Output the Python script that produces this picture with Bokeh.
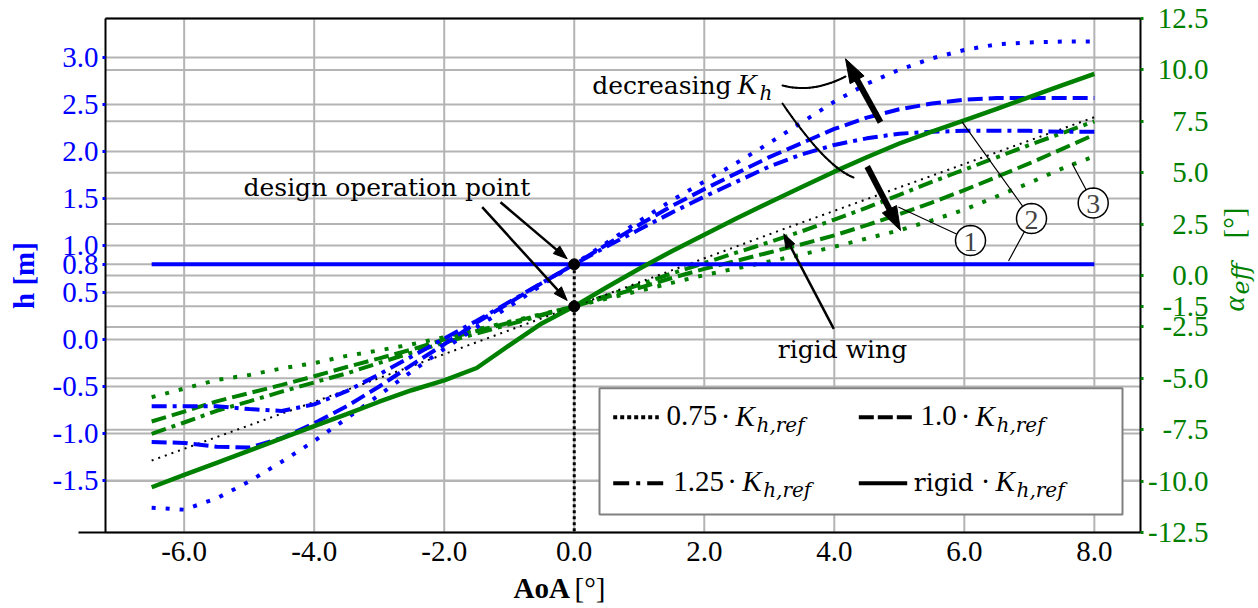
import math
from bokeh.plotting import figure
from bokeh.models import (Range1d, LinearAxis, FixedTicker, PrintfTickFormatter,
                          Label, Arrow, BoxAnnotation, PolyAnnotation)
from bokeh.embed import file_html
from bokeh.resources import INLINE

# ---------------- data ----------------
aoa = [-6.5, -6.0, -5.5, -5.0, -4.5, -4.0, -3.5, -3.0, -2.5, -2.0, -1.5, -1.0, -0.5, 0.0,
       0.5, 1.0, 1.5, 2.0, 2.5, 3.0, 3.5, 4.0, 4.5, 5.0, 5.5, 6.0, 6.5, 7.0, 7.5, 8.0]

h_075 = [-1.79, -1.81, -1.69, -1.51, -1.30, -1.08, -0.84, -0.59, -0.34, -0.10, 0.13, 0.35, 0.58, 0.80,
         1.03, 1.26, 1.48, 1.68, 1.88, 2.09, 2.31, 2.53, 2.72, 2.87, 2.99, 3.08, 3.14, 3.16, 3.17, 3.17]
h_100 = [-1.09, -1.10, -1.14, -1.15, -1.05, -0.89, -0.71, -0.50, -0.27, -0.05, 0.18, 0.39, 0.60, 0.80,
         1.01, 1.22, 1.42, 1.60, 1.77, 1.94, 2.09, 2.24, 2.36, 2.45, 2.51, 2.55, 2.57, 2.57, 2.57, 2.57]
h_125 = [-0.71, -0.71, -0.71, -0.74, -0.76, -0.69, -0.55, -0.37, -0.18, 0.01, 0.20, 0.40, 0.60, 0.80,
         0.99, 1.17, 1.35, 1.52, 1.68, 1.84, 1.97, 2.07, 2.14, 2.19, 2.21, 2.22, 2.22, 2.22, 2.21, 2.21]

alpha_075 = [-5.92, -5.50, -5.08, -4.84, -4.52, -4.26, -3.91, -3.64, -3.35, -3.00, -2.62, -2.25, -1.88, -1.50,
             -1.12, -0.75, -0.36, 0.02, 0.35, 0.68, 1.02, 1.40, 1.80, 2.20, 2.68, 3.20, 3.85, 4.50, 5.20, 5.80]
alpha_100 = [-7.10, -6.62, -6.12, -5.72, -5.32, -4.90, -4.45, -4.03, -3.60, -3.11, -2.70, -2.30, -1.90, -1.50,
             -1.05, -0.60, -0.12, 0.32, 0.72, 1.12, 1.52, 1.95, 2.45, 2.98, 3.55, 4.15, 4.80, 5.45, 6.15, 6.85]
alpha_125 = [-7.70, -7.15, -6.58, -6.12, -5.65, -5.20, -4.76, -4.25, -3.75, -3.27, -2.82, -2.38, -1.94, -1.50,
             -0.98, -0.45, 0.10, 0.60, 1.12, 1.62, 2.15, 2.72, 3.30, 3.92, 4.55, 5.15, 5.75, 6.35, 6.92, 7.50]
alpha_rigid = [-10.30, -9.70, -9.11, -8.52, -7.92, -7.33, -6.74, -6.14, -5.58, -5.10, -4.50, -3.40, -2.33, -1.50,
               -0.57, 0.33, 1.18, 1.98, 2.78, 3.55, 4.30, 5.05, 5.75, 6.42, 7.00, 7.55, 8.10, 8.68, 9.25, 9.81]

aoa_rigid_h = [-6.5, 8.0]
h_rigid = [0.80, 0.80]

aoa_ref = [-6.5, -4.0, 0.0, 3.17, 8.0]
alpha_ref = [-9.00, -6.15, -1.50, 2.20, 7.70]

design_aoa = [0.0]
design_h = [0.8]
design_alpha = [-1.5]

aoa_ticks = [-6.0, -4.0, -2.0, 0.0, 2.0, 4.0, 6.0, 8.0]
h_ticks = [-1.5, -1.0, -0.5, 0.0, 0.5, 0.8, 1.0, 1.5, 2.0, 2.5, 3.0]
alpha_ticks = [-12.5, -10.0, -7.5, -5.0, -2.5, -1.5, 0.0, 2.5, 5.0, 7.5, 10.0, 12.5]
legend_factors = ["0.75", "1.0", "1.25", "rigid"]

# ---------------- layout ----------------
W, H = 1258, 608
FL, FR, FT, FB = 105, 1140, 18, 532          # data area in pixels
X_LO, X_HI = -7.21, 8.71                     # AoA at FL / FR
H_LO, H_HI = -2.053, 3.415                   # h at FB / FT
A_LO, A_HI = -12.5, 12.5                     # alpha_eff at FB / FT

BLUE = "#0000ff"
GREEN = "#008000"
GRID = "#b4b4b4"
NUM_FONT = "Liberation Serif"
WORD_FONT = "DejaVu Serif"
MID = 0.34      # em-box middle above the baseline


def sx(px):
    return X_LO + (px - FL) * (X_HI - X_LO) / (FR - FL)


def sy(py):
    return H_HI - (py - FT) * (H_HI - H_LO) / (FB - FT)


def sa(py):
    return A_HI - (py - FT) * (A_HI - A_LO) / (FB - FT)


# the frame covers the whole canvas so that no text is clipped
p = figure(width=W, height=H, x_range=Range1d(sx(0), sx(W)), y_range=Range1d(sy(H), sy(0)),
           output_backend="svg", toolbar_location=None,
           x_axis_location=None, y_axis_location=None,
           min_border_left=0, min_border_right=0, min_border_top=0, min_border_bottom=0)
p.extra_y_ranges = {"alpha": Range1d(sa(H), sa(0))}
p.background_fill_color = "white"
p.border_fill_color = "white"
p.outline_line_color = None
p.xgrid.visible = False
p.ygrid.visible = False

# ---------------- grid lines (under everything) ----------------
nx, nh, na = len(aoa_ticks), len(h_ticks), len(alpha_ticks)
p.segment(x0=aoa_ticks, x1=aoa_ticks, y0=[sy(FB)] * nx, y1=[sy(FT)] * nx,
          line_color=GRID, line_width=2, level="underlay")
p.segment(x0=[sx(FL)] * nh, x1=[sx(FR)] * nh, y0=h_ticks, y1=h_ticks,
          line_color=GRID, line_width=2, level="underlay")
p.segment(x0=[sx(FL)] * na, x1=[sx(FR)] * na, y0=alpha_ticks, y1=alpha_ticks,
          line_color=GRID, line_width=2, level="underlay", y_range_name="alpha")

# ---------------- axes ----------------
xa = LinearAxis(ticker=FixedTicker(ticks=aoa_ticks), formatter=PrintfTickFormatter(format="%.1f"),
                fixed_location=sy(FB), bounds=(sx(78), sx(FR)))
xa.major_label_text_font = NUM_FONT
xa.major_label_text_font_size = "29px"
xa.major_label_text_color = "black"
xa.major_tick_line_color = None
xa.minor_tick_line_color = None
xa.axis_line_color = "black"
xa.axis_line_width = 2
xa.major_label_standoff = 3
p.add_layout(xa, "below")

ya = LinearAxis(ticker=FixedTicker(ticks=h_ticks), formatter=PrintfTickFormatter(format="%.1f"),
                fixed_location=sx(FL), bounds=(sy(FB), sy(FT)))
ya.major_label_text_font = NUM_FONT
ya.major_label_text_font_size = "29px"
ya.major_label_text_color = BLUE
ya.major_tick_line_color = BLUE
ya.major_tick_line_width = 3
ya.major_tick_out = 3
ya.major_tick_in = 0
ya.minor_tick_line_color = None
ya.axis_line_color = "black"
ya.axis_line_width = 2
ya.major_label_standoff = 4
p.add_layout(ya, "left")

ra = LinearAxis(y_range_name="alpha", ticker=FixedTicker(ticks=alpha_ticks),
                fixed_location=sx(FR), bounds=(A_LO, A_HI))
ra.major_label_text_color = None
ra.major_tick_line_color = GREEN
ra.major_tick_line_width = 3
ra.major_tick_out = 3
ra.major_tick_in = 0
ra.minor_tick_line_color = None
ra.axis_line_color = "black"
ra.axis_line_width = 2
p.add_layout(ra, "right")

# ---------------- curves ----------------
DOT, DASH, DASHDOT = "4 10", "15 6", "15 6 4 6"
p.line(aoa, alpha_075, line_color=GREEN, line_width=4, line_dash=DOT, y_range_name="alpha")
p.line(aoa, alpha_100, line_color=GREEN, line_width=4, line_dash=DASH, y_range_name="alpha")
p.line(aoa, alpha_125, line_color=GREEN, line_width=4, line_dash=DASHDOT, y_range_name="alpha")
p.line(aoa_ref, alpha_ref, line_color="black", line_width=2, line_dash="2 5", y_range_name="alpha")
p.line(aoa, h_075, line_color=BLUE, line_width=4, line_dash=DOT)
p.line(aoa, h_100, line_color=BLUE, line_width=4, line_dash=DASH)
p.line(aoa, h_125, line_color=BLUE, line_width=4, line_dash=DASHDOT)
p.line(aoa_rigid_h, h_rigid, line_color=BLUE, line_width=4)
p.line(aoa, alpha_rigid, line_color=GREEN, line_width=4.5, y_range_name="alpha")

# design operation point
p.segment(x0=design_aoa, y0=design_h, x1=design_aoa, y1=[sy(FB)], line_color="black",
          line_width=3, line_dash="3 3")
p.scatter(design_aoa, design_h, size=11, color="black")
p.scatter(design_aoa, design_alpha, size=11, color="black", y_range_name="alpha")


# ---------------- annotation helpers (pixel positions of the reference) ----------------
def label(px, py, text, size, font=WORD_FONT, style="normal", color="black",
          align="left", vertical=False):
    """(px, py) is the start/centre of the text on its baseline, in reference pixels."""
    if vertical:
        x, y, ang = px - MID * size, py, math.pi / 2
    else:
        x, y, ang = px, py - MID * size, 0.0
    p.add_layout(Label(x=sx(x), y=sy(y), text=text, text_font=font,
                       text_font_size=f"{size}px", text_font_style=style, text_color=color,
                       text_align=align, text_baseline="middle", angle=ang))


def seg(x0, y0, x1, y1, w, color="black", dash="solid", cap="round"):
    p.add_layout(Arrow(x_start=sx(x0), y_start=sy(y0), x_end=sx(x1), y_end=sy(y1),
                       start=None, end=None, line_width=w, line_color=color,
                       line_dash=dash, line_cap=cap))


def arrow(x0, y0, x1, y1, w, hl, hw):
    dx, dy = x1 - x0, y1 - y0
    L = math.hypot(dx, dy)
    ux, uy = dx / L, dy / L
    bx, by = x1 - ux * hl * 0.9, y1 - uy * hl * 0.9
    seg(x0, y0, bx, by, w, cap="butt")
    cx, cy = x1 - ux * hl, y1 - uy * hl
    nx_, ny_ = -uy, ux
    xs = [x1, cx + nx_ * hw / 2, cx - nx_ * hw / 2]
    ys = [y1, cy + ny_ * hw / 2, cy - ny_ * hw / 2]
    p.add_layout(PolyAnnotation(xs=[sx(v) for v in xs], ys=[sy(v) for v in ys],
                                fill_color="black", fill_alpha=1.0, line_color="black",
                                line_width=1, line_alpha=1.0))


def curve(p0, c, p2, w, n=18):
    pts = []
    for i in range(n + 1):
        t = i / n
        pts.append(((1 - t) ** 2 * p0[0] + 2 * (1 - t) * t * c[0] + t ** 2 * p2[0],
                    (1 - t) ** 2 * p0[1] + 2 * (1 - t) * t * c[1] + t ** 2 * p2[1]))
    for a, b in zip(pts[:-1], pts[1:]):
        seg(a[0], a[1], b[0], b[1], w)


def circled(cx, cy, digit, r=15):
    n = 48
    xs = [sx(cx + r * math.cos(2 * math.pi * k / n)) for k in range(n)]
    ys = [sy(cy + r * math.sin(2 * math.pi * k / n)) for k in range(n)]
    p.add_layout(PolyAnnotation(xs=xs, ys=ys, fill_color="white", fill_alpha=1.0,
                                line_color="black", line_width=1.5, line_alpha=1.0))
    p.add_layout(Label(x=sx(cx), y=sy(cy + 1), text=digit, text_font=NUM_FONT,
                       text_font_size="28px", text_align="center", text_baseline="middle"))


# top frame line
seg(FL, FT, FR, FT, 2, cap="butt")

# design operation point
label(243, 195, "design operation point", 25)
arrow(500, 201.7, 566.7, 258.3, 2.5, 14, 10)
arrow(481.7, 206.7, 566.7, 300, 2.5, 14, 10)

# rigid wing
label(842, 357, "rigid wing", 25, align="center")
arrow(833.3, 328.3, 783.3, 233.3, 2.5, 14, 10)

# decreasing K_h
label(591.7, 93.3, "decreasing", 25)
label(737, 93.3, "K", 29, font=NUM_FONT, style="italic")
label(759, 99.5, "h", 20, style="italic")
curve((782, 85), (812, 93), (845, 76), 2)
curve((782, 103), (825, 166), (853, 177), 2)
arrow(880, 121.7, 845, 58.3, 6, 24, 16)
arrow(866.7, 166, 900, 230, 6, 24, 16)

# circled markers with leader lines
seg(898.3, 206.7, 970, 240, 1.2)
seg(961.7, 121.7, 1031, 218, 1.2)
seg(1008.3, 260, 1031, 218, 1.2)
seg(1071.7, 163.3, 1092.7, 202.5, 1.2)
circled(970, 240, "1")
circled(1031, 218, "2")
circled(1092.7, 202.5, "3")

# legend
p.add_layout(BoxAnnotation(left=sx(599), right=sx(1122), top=sy(387.7), bottom=sy(514),
                           fill_color="white", fill_alpha=1.0, line_color="#808080",
                           line_width=2, line_alpha=1.0))
seg(612.7, 416.7, 658.3, 416.7, 4, dash="4 3", cap="butt")
seg(858.3, 416.7, 915, 416.7, 4, dash="15 4", cap="butt")
seg(612.7, 482.7, 665, 482.7, 4, dash="16 7 4 7", cap="butt")
seg(858.3, 482.7, 906.7, 482.7, 4, cap="butt")

legend_pos = [(666, 425, 725, 735), (920, 425, 965, 975), (672.7, 490.7, 731.7, 741.7), (913.3, 490.7, 985, 995)]
for name, (tx, by, dotx, kx) in zip(legend_factors, legend_pos):
    if name == "rigid":
        label(tx, by, name, 25)
    else:
        label(tx, by, name, 29, font=NUM_FONT)
    label(dotx, by, "·", 29, font=NUM_FONT, align="center")
    label(kx, by, "K", 29, font=NUM_FONT, style="italic")
    label(kx + 21, by + 6, "h,ref", 20, style="italic")

# axis titles
label(513, 597, "AoA", 29, font=NUM_FONT, style="bold")
label(574, 597, "[°]", 29, font=NUM_FONT)
label(33, 275, "h [m]", 29, font=NUM_FONT, style="bold", color=BLUE, align="center", vertical=True)
label(1243, 311, "α", 29, font=NUM_FONT, style="italic", color=GREEN, vertical=True)
label(1249, 294, "eff", 24, style="italic", color=GREEN, vertical=True)
label(1243, 238, "[°]", 29, font=NUM_FONT, color=GREEN, vertical=True)

# right-axis tick labels (right aligned as in the reference)
for t in alpha_ticks:
    p.add_layout(Label(x=sx(1208), y=t, y_range_name="alpha", text="%.1f" % t,
                       text_font=NUM_FONT, text_font_size="29px", text_color=GREEN,
                       text_align="right", text_baseline="middle"))

open("out.html", "w").write(file_html(p, INLINE))
